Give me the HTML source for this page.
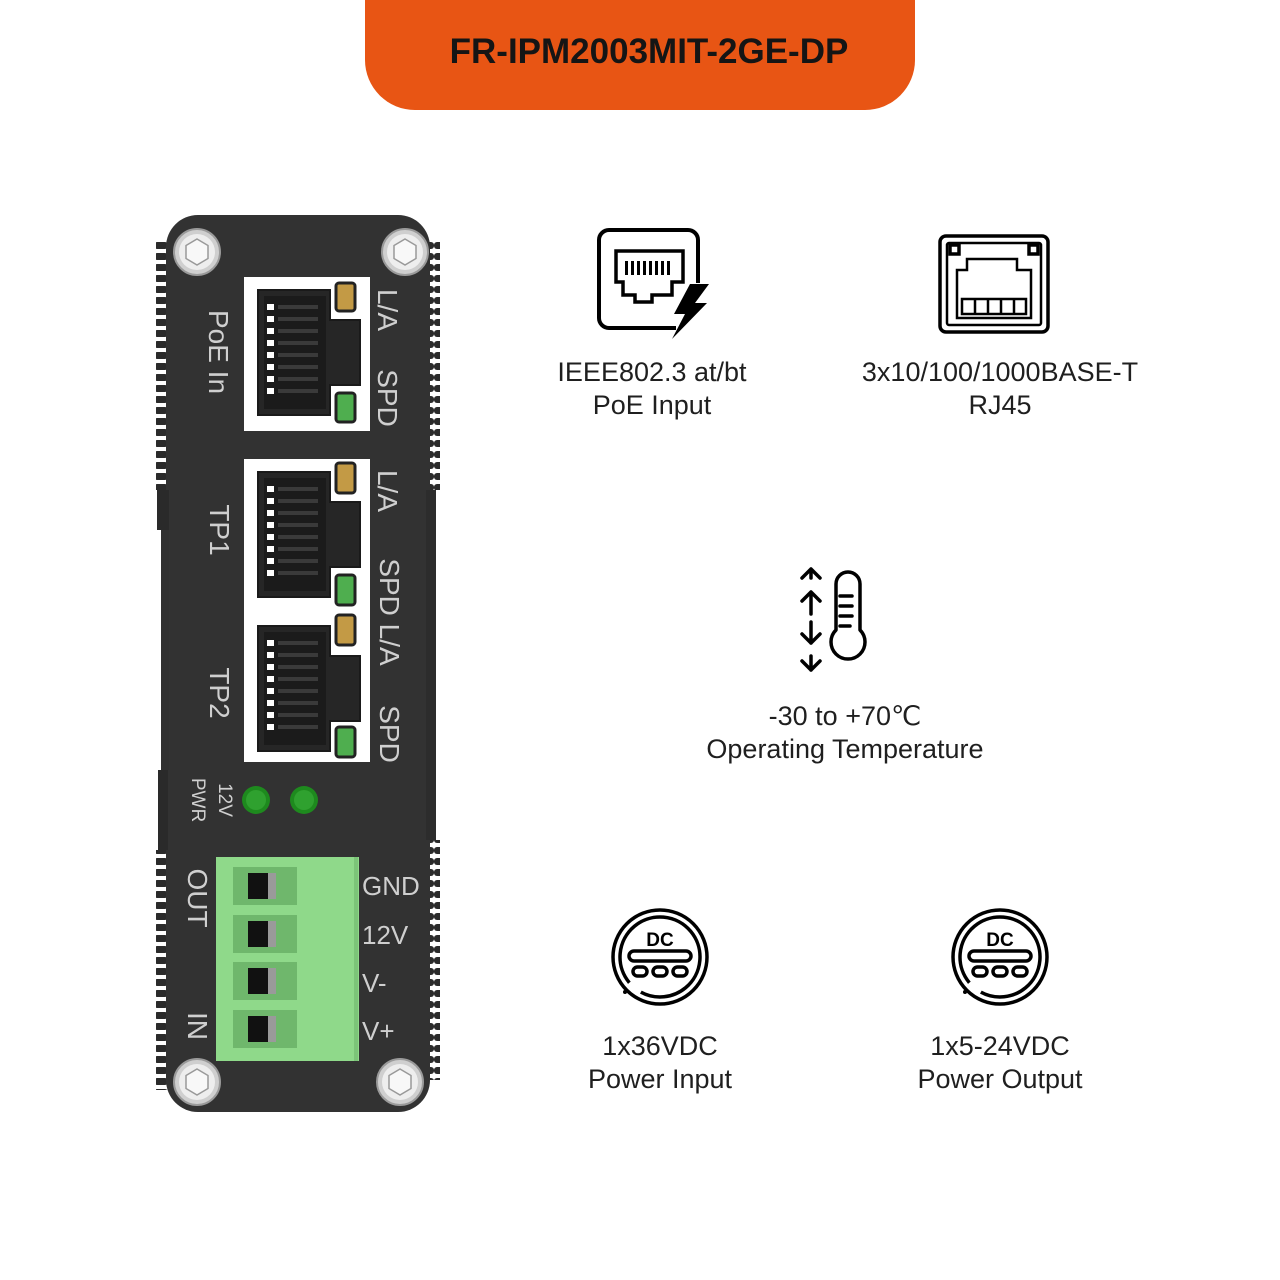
<!DOCTYPE html>
<html><head><meta charset="utf-8"><style>
html,body{margin:0;padding:0;background:#fff;}
body{width:1280px;height:1280px;overflow:hidden;position:relative;font-family:"Liberation Sans",Arial,sans-serif;}
.t{position:absolute;text-align:center;color:#1f1f1f;font-size:27px;line-height:33px;}
</style></head><body>
<svg width="1280" height="1280" viewBox="0 0 1280 1280" style="position:absolute;left:0;top:0">
<defs>
<pattern id="fin" x="0" y="0" width="14" height="11" patternUnits="userSpaceOnUse">
<rect x="0" y="0" width="14" height="7" rx="3" fill="#2b2b2b"/>
</pattern>
<g id="jack">
<path d="M0 0H72V30H102V95H72V125H0Z" fill="#262626" stroke="#1a1a1a" stroke-width="2"/>
<rect x="6" y="6" width="62" height="113" fill="#1b1b1b"/>
<g fill="#fff">
<rect x="9" y="14" width="7" height="6"/><rect x="9" y="26" width="7" height="6"/><rect x="9" y="38" width="7" height="6"/><rect x="9" y="50" width="7" height="6"/><rect x="9" y="62" width="7" height="6"/><rect x="9" y="74" width="7" height="6"/><rect x="9" y="86" width="7" height="6"/><rect x="9" y="98" width="7" height="6"/>
</g>
<g fill="#3a3a3a">
<rect x="20" y="15" width="40" height="4"/><rect x="20" y="27" width="40" height="4"/><rect x="20" y="39" width="40" height="4"/><rect x="20" y="51" width="40" height="4"/><rect x="20" y="63" width="40" height="4"/><rect x="20" y="75" width="40" height="4"/><rect x="20" y="87" width="40" height="4"/><rect x="20" y="99" width="40" height="4"/>
</g>
</g>
<g id="screw">
<circle r="23" fill="#cfcfcf" stroke="#9a9a9a" stroke-width="2"/>
<circle r="18" fill="#eeeeee"/>
<polygon points="0,-13 11,-6.5 11,6.5 0,13 -11,6.5 -11,-6.5" fill="#f8f8f8" stroke="#999" stroke-width="1.5"/>
</g>
<g id="slot">
<rect x="0" y="0" width="64" height="38" fill="#6fb76c"/>
<rect x="15" y="6" width="20" height="26" fill="#111"/>
<rect x="35" y="6" width="8" height="26" fill="#9a9a9a"/>
</g>
<g id="dc">
<g fill="none" stroke="#000" stroke-width="3.5">
<circle r="47"/>
<circle r="40" stroke-dasharray="236 15" transform="rotate(140)"/>
<rect x="-31" y="-6" width="62" height="10" rx="5"/>
<rect x="-27" y="10" width="14" height="9" rx="4.5"/><rect x="-7" y="10" width="14" height="9" rx="4.5"/><rect x="13" y="10" width="14" height="9" rx="4.5"/>
</g>
<circle cx="-35" cy="35" r="2" fill="#000"/>
<text x="0" y="-11" text-anchor="middle" font-family="Liberation Sans,Arial,sans-serif" font-weight="bold" font-size="19" fill="#000">DC</text>
</g>
</defs>

<!-- header -->
<path d="M365 0H915V60A50 50 0 0 1 865 110H415A50 50 0 0 1 365 60Z" fill="#e85514"/>
<text x="649" y="63" text-anchor="middle" font-family="Liberation Sans,Arial,sans-serif" font-weight="bold" font-size="35" fill="#151515">FR-IPM2003MIT-2GE-DP</text>

<!-- device body -->
<rect x="156" y="240" width="14" height="250" fill="url(#fin)"/>
<rect x="156" y="850" width="14" height="240" fill="url(#fin)"/>
<rect x="426" y="240" width="14" height="250" fill="url(#fin)"/>
<rect x="426" y="840" width="14" height="240" fill="url(#fin)"/>
<rect x="166" y="215" width="264" height="897" rx="32" fill="#323232"/>
<rect x="157" y="490" width="12" height="40" fill="#2a2a2a"/>
<rect x="161" y="530" width="8" height="240" fill="#303030"/>
<rect x="426" y="490" width="10" height="350" fill="#2c2c2c"/>
<rect x="158" y="770" width="10" height="80" fill="#2a2a2a"/>

<use href="#screw" x="197" y="252"/>
<use href="#screw" x="405" y="252"/>
<use href="#screw" x="197" y="1082"/>
<use href="#screw" x="400" y="1082"/>

<!-- ports -->
<rect x="244" y="277" width="126" height="154" fill="#fff"/>
<rect x="244" y="459" width="126" height="303" fill="#fff"/>
<use href="#jack" x="258" y="290"/>
<use href="#jack" x="258" y="472"/>
<use href="#jack" x="258" y="626"/>
<g stroke="#222" stroke-width="3">
<rect x="336" y="283" width="19" height="28" rx="3" fill="#c39a45"/>
<rect x="336" y="393" width="19" height="29" rx="3" fill="#4fae4f"/>
<rect x="336" y="463" width="19" height="30" rx="3" fill="#c39a45"/>
<rect x="336" y="575" width="19" height="30" rx="3" fill="#4fae4f"/>
<rect x="336" y="615" width="19" height="30" rx="3" fill="#c39a45"/>
<rect x="336" y="727" width="19" height="30" rx="3" fill="#4fae4f"/>
</g>

<g font-family="Liberation Sans,Arial,sans-serif" fill="#cfcfcf" font-size="28">
<text transform="translate(378,310) rotate(90)" text-anchor="middle">L/A</text>
<text transform="translate(378,398) rotate(90)" text-anchor="middle">SPD</text>
<text transform="translate(378,491) rotate(90)" text-anchor="middle">L/A</text>
<text transform="translate(380,612) rotate(90)" text-anchor="middle">SPD L/A</text>
<text transform="translate(380,734) rotate(90)" text-anchor="middle">SPD</text>
<text transform="translate(209,352) rotate(90)" text-anchor="middle">PoE In</text>
<text transform="translate(210,530) rotate(90)" text-anchor="middle">TP1</text>
<text transform="translate(210,693) rotate(90)" text-anchor="middle">TP2</text>
<text transform="translate(188,898) rotate(90)" text-anchor="middle">OUT</text>
<text transform="translate(188,1026) rotate(90)" text-anchor="middle">IN</text>
<text font-size="19" transform="translate(219,800) rotate(90)" text-anchor="middle">12V</text>
<text font-size="19" transform="translate(192,800) rotate(90)" text-anchor="middle">PWR</text>
<text x="362" y="895" font-size="26">GND</text>
<text x="362" y="944" font-size="26">12V</text>
<text x="362" y="992" font-size="26">V-</text>
<text x="362" y="1040" font-size="26">V+</text>
</g>

<circle cx="256" cy="800" r="14" fill="#1e8a1e"/><circle cx="256" cy="800" r="10" fill="#2fa12f"/>
<circle cx="304" cy="800" r="14" fill="#1e8a1e"/><circle cx="304" cy="800" r="10" fill="#2fa12f"/>

<!-- terminal block -->
<rect x="216" y="857" width="143" height="204" fill="#8fd98a"/>
<rect x="354" y="857" width="4" height="204" fill="#7cc478"/>
<use href="#slot" x="233" y="867"/>
<use href="#slot" x="233" y="915"/>
<use href="#slot" x="233" y="962"/>
<use href="#slot" x="233" y="1010"/>

<!-- PoE icon -->
<g fill="none" stroke="#000" stroke-width="4">
<path d="M676 328H609A10 10 0 0 1 599 318V240A10 10 0 0 1 609 230H688A10 10 0 0 1 698 240V283"/>
<path d="M616 251H683V282H672V295H652V302H635V295H623V282H616Z" stroke-width="3.5"/>
</g>
<g fill="#000"><rect x="625" y="261" width="3" height="14"/><rect x="631" y="261" width="3" height="14"/><rect x="637" y="261" width="3" height="14"/><rect x="643" y="261" width="3" height="14"/><rect x="649" y="261" width="3" height="14"/><rect x="655" y="261" width="3" height="14"/><rect x="661" y="261" width="3" height="14"/><rect x="667" y="261" width="3" height="14"/></g>
<path d="M690 284H709L695 303H707L672 339L685 314H674Z" fill="#000"/>

<!-- RJ45 icon -->
<g fill="none" stroke="#000" stroke-width="3.5">
<rect x="940" y="236" width="108" height="96" rx="6"/>
<rect x="947" y="243" width="94" height="82" rx="2" stroke-width="2.5"/>
<rect x="950" y="245" width="9" height="9"/><rect x="1029" y="245" width="9" height="9"/>
<path d="M957 318V270H967V259H1017V270H1031V318Z" stroke-width="2.5"/>
<rect x="962" y="299" width="64" height="15" stroke-width="2.5"/>
<path d="M975 299V314M988 299V314M1001 299V314M1014 299V314" stroke-width="2.5"/>
</g>

<!-- Thermometer icon -->
<g fill="none" stroke="#000" stroke-width="3.5" stroke-linecap="round" stroke-linejoin="round">
<path d="M836 630V584A12 12 0 0 1 860 584V630A17 17 0 1 1 836 630Z"/>
<path d="M840 596H852M840 606H852M840 616H852M840 626H850" />
<path d="M802 578L811 569L820 578M811 569V578"/>
<path d="M802 601L811 592L820 601M811 592V614"/>
<path d="M802 634L811 643L820 634M811 622V643"/>
<path d="M802 661L811 670L820 661M811 656V670"/>
</g>

<use href="#dc" x="660" y="957"/>
<use href="#dc" x="1000" y="957"/>
</svg>

<div class="t" style="left:502px;top:356px;width:300px;">IEEE802.3 at/bt<br>PoE Input</div>
<div class="t" style="left:820px;top:356px;width:360px;">3x10/100/1000BASE-T<br>RJ45</div>
<div class="t" style="left:645px;top:700px;width:400px;">-30 to +70℃<br>Operating Temperature</div>
<div class="t" style="left:510px;top:1030px;width:300px;">1x36VDC<br>Power Input</div>
<div class="t" style="left:850px;top:1030px;width:300px;">1x5-24VDC<br>Power Output</div>
</body></html>
